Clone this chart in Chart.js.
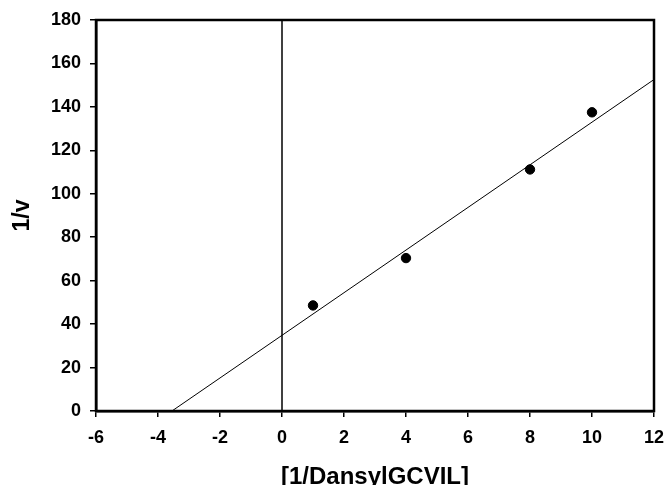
<!DOCTYPE html>
<html lang="en">
<head>
  <meta charset="UTF-8">
  <title>1/v vs [1/DansylGCVIL]</title>
  <script src="https://cdn.jsdelivr.net/npm/chart.js"></script>
  <style>
    body {
      margin: 0;
      background: #fff;
    }
    #wrap {
      width: 665px;
      height: 485px;
    }
  </style>
</head>
<body>
  <div id="wrap"><canvas id="lbChart" width="665" height="485"></canvas></div>

  <script>
    // measured points
    const xPts = [1, 4, 8, 10];
    const yPts = [48.6, 70.4, 111.2, 137.5];

    // fitted line, end points
    const fitX = [-3.55, 12];
    const fitY = [0, 152.6];

    // vertical line at x = 0
    const zeroX = [0, 0];
    const zeroY = [0, 180];

    const xTicks = [-6, -4, -2, 0, 2, 4, 6, 8, 10, 12];
    const yTicks = [0, 20, 40, 60, 80, 100, 120, 140, 160, 180];

    const toXY = (xs, ys) => xs.map((x, i) => ({ x: x, y: ys[i] }));

    const fontFam = "Arial, 'Liberation Sans', sans-serif";

    // closes the box on top and right
    const frame = {
      id: 'frame',
      afterDatasetsDraw(chart) {
        const { ctx, chartArea: a } = chart;
        ctx.save();
        ctx.strokeStyle = '#000';
        ctx.lineWidth = 2.5;
        ctx.strokeRect(a.left, a.top, a.right - a.left, a.bottom - a.top);
        ctx.restore();
      }
    };

    new Chart(document.getElementById('lbChart').getContext('2d'), {
      type: 'scatter',
      data: {
        datasets: [
          {
            data: toXY(xPts, yPts),
            backgroundColor: '#000',
            borderColor: '#000',
            pointRadius: 4.7,
            showLine: false
          },
          {
            data: toXY(fitX, fitY),
            borderColor: '#000',
            borderWidth: 1,
            pointRadius: 0,
            showLine: true
          },
          {
            data: toXY(zeroX, zeroY),
            borderColor: '#000',
            borderWidth: 1.5,
            pointRadius: 0,
            showLine: true
          }
        ]
      },
      options: {
        responsive: false,
        animation: false,
        layout: { padding: { left: 0, top: 20, right: 11, bottom: 0 } },
        plugins: {
          legend: { display: false },
          tooltip: { enabled: false }
        },
        scales: {
          x: {
            type: 'linear',
            min: xTicks[0],
            max: xTicks[xTicks.length - 1],
            afterBuildTicks: s => { s.ticks = xTicks.map(v => ({ value: v })); },
            afterFit: s => { s.height = 74; s.paddingLeft = 0; s.paddingRight = 0; },
            ticks: {
              color: '#000',
              padding: 10,
              font: { family: fontFam, size: 18, weight: 'bold' }
            },
            grid: { drawOnChartArea: false, drawTicks: true, tickLength: 6, color: '#000', lineWidth: 1.5 },
            border: { display: true, color: '#000', width: 2.5 },
            title: {
              display: true,
              text: '[1/DansylGCVIL]',
              color: '#000',
              padding: { top: 0, bottom: -7 },
              font: { family: fontFam, size: 24, weight: 'bold' }
            }
          },
          y: {
            type: 'linear',
            min: yTicks[0],
            max: yTicks[yTicks.length - 1],
            afterBuildTicks: s => { s.ticks = yTicks.map(v => ({ value: v })); },
            afterFit: s => { s.width = 96; s.paddingTop = 0; s.paddingBottom = 0; },
            ticks: {
              color: '#000',
              padding: 9,
              font: { family: fontFam, size: 18, weight: 'bold' }
            },
            grid: { drawOnChartArea: false, drawTicks: true, tickLength: 6, color: '#000', lineWidth: 1.5 },
            border: { display: true, color: '#000', width: 2.5 },
            title: {
              display: true,
              text: '1/v',
              color: '#000',
              padding: { top: 9, bottom: 0 },
              font: { family: fontFam, size: 23, weight: 'bold' }
            }
          }
        }
      },
      plugins: [frame]
    });
  </script>
</body>
</html>
